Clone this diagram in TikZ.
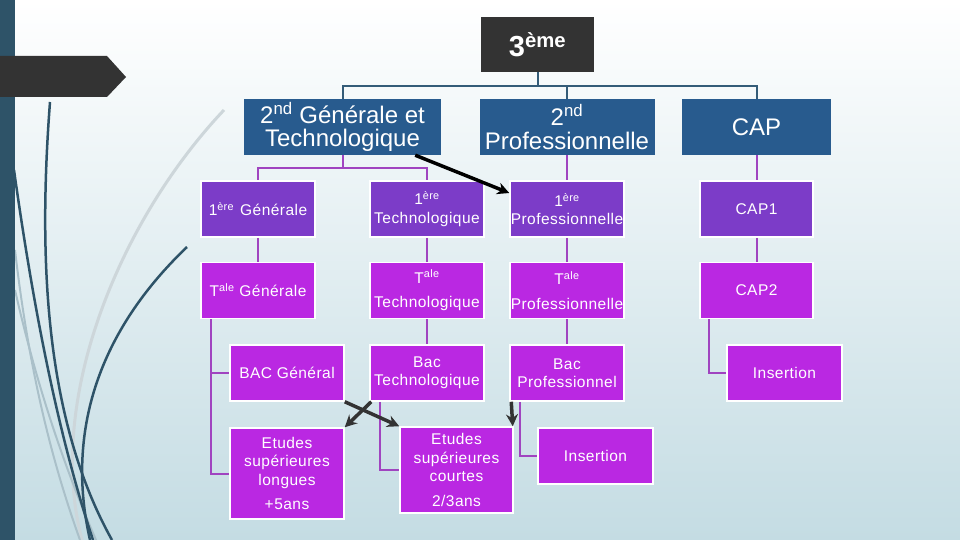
\documentclass[tikz,border=0pt]{standalone}
\usepackage{fontspec}
\setmainfont{Liberation Sans}
\usetikzlibrary{arrows.meta}

\newcommand{\expo}[1]{\textsuperscript{#1}}

\definecolor{barteal}{RGB}{46,83,104}
\definecolor{darkbox}{RGB}{51,51,51}
\definecolor{headblue}{RGB}{40,91,142}
\definecolor{violetone}{RGB}{124,60,200}
\definecolor{violettwo}{RGB}{186,40,226}
\definecolor{linkteal}{RGB}{52,92,120}
\definecolor{linkviolet}{RGB}{160,68,192}
\definecolor{bgblue}{RGB}{196,220,227}
\definecolor{curvegray}{RGB}{205,214,218}
\definecolor{curvelight}{RGB}{170,192,201}

\tikzset{
  box/.style={minimum width=114pt,minimum height=56pt,inner sep=0pt,
    align=center,text=white,
    font=\fontsize{15.5}{18.5}\selectfont\addfontfeatures{LetterSpace=3}},
  lvlone/.style={box,fill=violetone,draw=white,line width=1.5pt},
  lvltwo/.style={box,fill=violettwo,draw=white,line width=1.5pt},
  headbox/.style={box,fill=headblue,font=\fontsize{24}{23.5}\selectfont},
  topbox/.style={box,fill=darkbox,minimum width=113pt,minimum height=55pt,
    font=\fontsize{29}{29}\bfseries},
  toplink/.style={linkteal,line width=2pt},
  sublink/.style={linkviolet,line width=2pt},
  jump/.style={->,darkbox,line width=3.5pt}
}

\begin{document}
\begin{tikzpicture}[x=1pt,y=-1pt,>={Stealth[length=12pt,width=12pt]}]
\useasboundingbox (0,0) rectangle (960,540);
\shade[top color=white,bottom color=bgblue] (0,0) rectangle (960,540);

% decoration on the left
\draw[curvegray,line width=3pt] (224,110) .. controls (120,220) and (45,400) .. (82,540);
\draw[curvelight,line width=2pt] (15,250) .. controls (30,380) and (55,470) .. (80,540);
\draw[curvelight,line width=2pt] (15,290) .. controls (40,400) and (70,480) .. (96,540);
\draw[barteal,line width=2.5pt] (50,102) .. controls (38,260) and (45,420) .. (112,540);
\draw[barteal,line width=2.5pt] (14,170) .. controls (35,320) and (60,440) .. (93,540);
\draw[barteal,line width=2.5pt] (187,247) .. controls (100,330) and (65,430) .. (90,540);
\fill[barteal] (0,0) rectangle (15,540);
\fill[darkbox] (0,56) -- (107,56) -- (126,77) -- (107,97) -- (0,97) -- cycle;

% boxes
\node[topbox] (troisieme) at (537.5,44.5) {3\expo{ème}};

\node[headbox,minimum width=197pt] (gt) at (342.5,127) {2\expo{nd} Générale et\\Technologique};
\node[headbox,minimum width=175pt] (pro) at (567,127) {2\expo{nd}\\Professionnelle};
\node[headbox,minimum width=149pt] (cap) at (756.5,127) {CAP};

\node[lvlone] (pg) at (258,209) {1\expo{ère}\hspace{6pt}Générale};
\node[lvlone] (pt) at (427,209) {1\expo{ère}\\Technologique};
\node[lvlone] (pp) at (567,209) {1\expo{ère}\\Professionnelle};
\node[lvlone,minimum width=113pt] (cone) at (756.5,209) {CAP1};

\node[lvltwo] (tg) at (258,290.5) {T\expo{ale} Générale};
\node[lvltwo] (tt) at (427,290.5) {T\expo{ale}\\[6pt]Technologique};
\node[lvltwo] (tp) at (567,290.5) {T\expo{ale}\\[6pt]Professionnelle};
\node[lvltwo,minimum width=113pt] (ctwo) at (756.5,290.5) {CAP2};

\node[lvltwo] (bg) at (287,373) {BAC Général};
\node[lvltwo] (bt) at (427,373) {Bac\\Technologique};
\node[lvltwo] (bp) at (567,373) {Bac\\Professionnel};
\node[lvltwo,minimum width=115pt] (icap) at (784.5,373) {Insertion};

\node[lvltwo,minimum height=91pt] (el) at (287,473.5) {Etudes\\supérieures\\longues\\[6pt]+5ans};
\node[lvltwo,minimum width=113pt,minimum height=86pt] (ec) at (456.5,470) {Etudes\\supérieures\\courtes\\[6pt]2/3ans};
\node[lvltwo,minimum width=115pt] (ipro) at (595.5,456) {Insertion};

% links
\draw[toplink] (troisieme.south) -- ++(0,14) -| (gt.north);
\draw[toplink] (troisieme.south) -- ++(0,14) -| (pro.north);
\draw[toplink] (troisieme.south) -- ++(0,14) -| (cap.north);

\draw[sublink] (gt.south) -- ++(0,13) -| (pg.north);
\draw[sublink] (gt.south) -- ++(0,13) -| (pt.north);
\draw[sublink] (pro.south) -- (pp.north);
\draw[sublink] (cap.south) -- (cone.north);

\draw[sublink] (pg.south) -- (tg.north);
\draw[sublink] (pt.south) -- (tt.north);
\draw[sublink] (pp.south) -- (tp.north);
\draw[sublink] (cone.south) -- (ctwo.north);

\draw[sublink] ([xshift=11pt]tg.south west) |- (bg.west);
\draw[sublink] ([xshift=11pt]tg.south west) |- (el.west);
\draw[sublink] (tt.south) -- (bt.north);
\draw[sublink] ([xshift=11pt]bt.south west) |- (ec.west);
\draw[sublink] (tp.south) -- (bp.north);
\draw[sublink] ([xshift=11pt]bp.south west) |- (ipro.west);
\draw[sublink] ([xshift=10pt]ctwo.south west) |- (icap.west);

% arrows
\draw[jump,black] ([xshift=-26pt]gt.south east) -- ([yshift=16pt]pp.west);
\draw[jump] (bg.south east) -- (ec.north west);
\draw[jump] ([xshift=2pt]bt.south west) -- (el.north east);
\draw[jump] ([xshift=2pt]bp.south west) -- ([xshift=-1pt]ec.north east);
\end{tikzpicture}
\end{document}
